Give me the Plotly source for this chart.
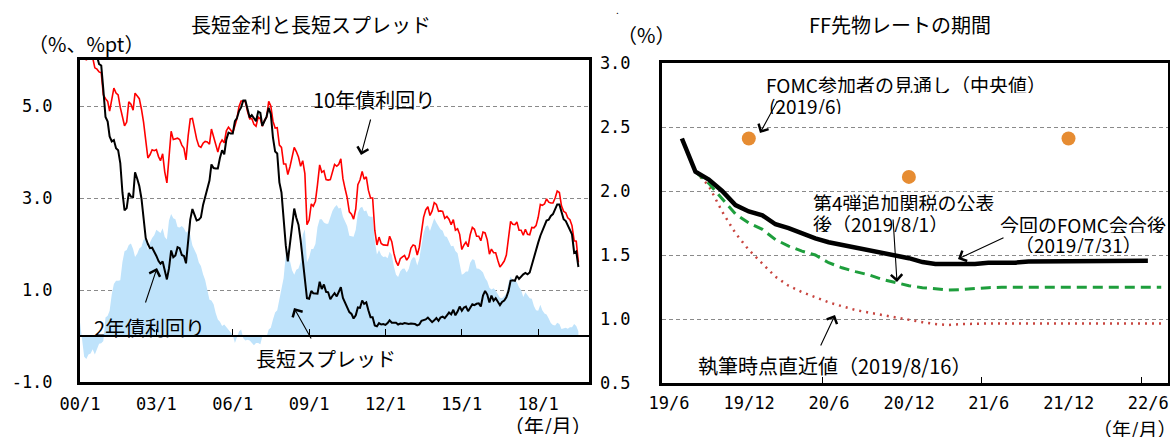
import plotly.graph_objects as go
import pandas as pd

W, H = 1170, 441

# ---------------- Left panel data (monthly, 2000/1 - 2019/8) ----------------
us10y = [
    6.66, 6.52, 6.26, 5.99, 6.44, 6.10, 6.05, 5.83, 5.80, 5.74, 5.72, 5.24,
    5.16, 5.10, 4.89, 5.14, 5.39, 5.28, 5.24, 4.97, 4.73, 4.57, 4.65, 5.09,
    5.04, 4.91, 5.28, 5.21, 5.16, 4.93, 4.65, 4.26, 3.87, 3.94, 4.05, 4.03,
    4.05, 3.90, 3.81, 3.96, 3.57, 3.33, 3.98, 4.45, 4.27, 4.29, 4.30, 4.27,
    4.15, 4.08, 3.83, 4.35, 4.72, 4.73, 4.50, 4.28, 4.13, 4.10, 4.19, 4.23,
    4.22, 4.17, 4.50, 4.34, 4.14, 4.00, 4.18, 4.26, 4.20, 4.46, 4.54, 4.47,
    4.42, 4.57, 4.72, 4.99, 5.11, 5.11, 5.09, 4.88, 4.72, 4.73, 4.60, 4.56,
    4.76, 4.72, 4.56, 4.69, 4.75, 5.10, 5.00, 4.67, 4.52, 4.53, 4.15, 4.10,
    3.74, 3.74, 3.51, 3.68, 3.88, 4.10, 4.01, 3.89, 3.69, 3.81, 3.53, 2.42,
    2.52, 2.87, 2.82, 2.93, 3.29, 3.72, 3.56, 3.59, 3.40, 3.39, 3.40, 3.59,
    3.73, 3.69, 3.73, 3.85, 3.42, 3.20, 3.01, 2.70, 2.65, 2.54, 2.76, 3.29,
    3.39, 3.58, 3.41, 3.46, 3.17, 3.00, 3.00, 2.30, 1.98, 2.15, 2.01, 1.98,
    1.97, 1.97, 2.17, 2.05, 1.80, 1.62, 1.53, 1.68, 1.72, 1.75, 1.65, 1.72,
    1.91, 1.98, 1.96, 1.76, 1.93, 2.30, 2.58, 2.74, 2.81, 2.62, 2.72, 2.90,
    2.86, 2.71, 2.72, 2.71, 2.56, 2.60, 2.54, 2.42, 2.53, 2.30, 2.33, 2.21,
    1.88, 1.98, 2.04, 1.94, 2.20, 2.36, 2.32, 2.17, 2.17, 2.07, 2.26, 2.24,
    2.09, 1.78, 1.89, 1.81, 1.81, 1.64, 1.50, 1.56, 1.63, 1.76, 2.14, 2.49,
    2.43, 2.42, 2.48, 2.30, 2.30, 2.19, 2.32, 2.21, 2.20, 2.36, 2.35, 2.40,
    2.58, 2.86, 2.84, 2.87, 2.98, 2.91, 2.89, 2.89, 3.00, 3.15, 3.12, 2.83,
    2.71, 2.68, 2.57, 2.53, 2.40, 2.07, 2.06, 1.60,
]
us2y = [
    6.44, 6.61, 6.53, 6.40, 6.81, 6.48, 6.34, 6.23, 6.08, 5.91, 5.88, 5.35,
    4.76, 4.66, 4.34, 4.23, 4.26, 4.08, 4.04, 3.76, 3.12, 2.73, 2.78, 3.11,
    3.03, 3.02, 3.56, 3.42, 3.26, 2.99, 2.56, 2.13, 2.00, 1.91, 1.92, 1.84,
    1.74, 1.63, 1.57, 1.62, 1.42, 1.23, 1.47, 1.86, 1.71, 1.75, 1.93, 1.91,
    1.76, 1.74, 1.58, 2.07, 2.53, 2.76, 2.64, 2.51, 2.53, 2.58, 2.85, 3.01,
    3.22, 3.38, 3.73, 3.65, 3.64, 3.64, 3.87, 4.04, 3.95, 4.27, 4.42, 4.40,
    4.40, 4.67, 4.73, 4.89, 4.97, 5.12, 5.12, 4.90, 4.75, 4.80, 4.74, 4.67,
    4.88, 4.85, 4.57, 4.67, 4.77, 4.96, 4.82, 4.31, 4.01, 3.97, 3.34, 3.12,
    2.48, 1.97, 1.62, 2.05, 2.45, 2.77, 2.57, 2.42, 2.08, 1.61, 1.21, 0.82,
    0.81, 0.98, 0.93, 0.93, 0.92, 1.18, 1.02, 1.12, 0.96, 0.95, 0.80, 0.87,
    0.93, 0.86, 0.96, 1.06, 0.83, 0.72, 0.62, 0.52, 0.48, 0.38, 0.45, 0.62,
    0.61, 0.77, 0.70, 0.73, 0.56, 0.41, 0.41, 0.23, 0.21, 0.28, 0.25, 0.26,
    0.24, 0.28, 0.34, 0.29, 0.29, 0.29, 0.25, 0.27, 0.26, 0.28, 0.27, 0.26,
    0.27, 0.27, 0.26, 0.23, 0.25, 0.33, 0.34, 0.36, 0.40, 0.34, 0.30, 0.34,
    0.39, 0.33, 0.40, 0.42, 0.39, 0.45, 0.51, 0.47, 0.57, 0.45, 0.53, 0.64,
    0.55, 0.62, 0.64, 0.54, 0.61, 0.69, 0.67, 0.70, 0.71, 0.64, 0.88, 0.98,
    0.90, 0.73, 0.88, 0.77, 0.82, 0.73, 0.67, 0.74, 0.77, 0.84, 0.98, 1.20,
    1.21, 1.20, 1.31, 1.24, 1.30, 1.34, 1.37, 1.34, 1.38, 1.55, 1.70, 1.84,
    2.03, 2.18, 2.28, 2.38, 2.51, 2.53, 2.61, 2.65, 2.77, 2.86, 2.86, 2.68,
    2.54, 2.50, 2.41, 2.34, 2.21, 1.81, 1.84, 1.50,
]
spread = [
    0.30, -0.09, -0.45, -0.50, -0.40, -0.38, -0.29, -0.40, -0.28, -0.17, -0.16, -0.11,
    0.40, 0.44, 0.55, 0.91, 1.13, 1.20, 1.20, 1.21, 1.61, 1.84, 1.87, 1.98,
    2.01, 1.89, 1.72, 1.79, 1.90, 1.94, 2.09, 2.13, 1.87, 2.03, 2.13, 2.19,
    2.31, 2.27, 2.24, 2.34, 2.15, 2.10, 2.51, 2.65, 2.56, 2.54, 2.37, 2.36,
    2.39, 2.34, 2.25, 2.28, 2.19, 1.97, 1.86, 1.77, 1.60, 1.52, 1.34, 1.22,
    1.00, 0.79, 0.77, 0.69, 0.50, 0.36, 0.31, 0.22, 0.25, 0.19, 0.12, 0.07,
    0.02, -0.15, -0.01, 0.10, 0.14, -0.05, -0.10, -0.08, -0.10, -0.15, -0.20, -0.15,
    -0.15, -0.18, -0.01, 0.02, -0.02, 0.14, 0.18, 0.36, 0.51, 0.56, 0.81, 0.98,
    1.26, 1.77, 1.89, 1.63, 1.43, 1.33, 1.44, 1.47, 1.61, 2.20, 2.32, 1.60,
    1.71, 1.89, 1.89, 2.00, 2.37, 2.54, 2.54, 2.47, 2.44, 2.44, 2.60, 2.72,
    2.80, 2.85, 2.77, 2.79, 2.59, 2.48, 2.39, 2.18, 2.17, 2.16, 2.31, 2.67,
    2.78, 2.81, 2.71, 2.73, 2.61, 2.59, 2.59, 2.07, 1.77, 1.87, 1.76, 1.72,
    1.73, 1.69, 1.83, 1.76, 1.51, 1.33, 1.28, 1.41, 1.46, 1.47, 1.38, 1.46,
    1.64, 1.71, 1.70, 1.53, 1.68, 1.97, 2.24, 2.38, 2.41, 2.28, 2.42, 2.56,
    2.47, 2.38, 2.32, 2.29, 2.17, 2.15, 2.03, 1.95, 1.96, 1.85, 1.80, 1.57,
    1.33, 1.36, 1.40, 1.40, 1.59, 1.67, 1.65, 1.47, 1.46, 1.43, 1.38, 1.26,
    1.19, 1.05, 1.01, 1.04, 0.99, 0.91, 0.83, 0.82, 0.86, 0.92, 1.16, 1.29,
    1.22, 1.22, 1.17, 1.06, 1.00, 0.85, 0.95, 0.87, 0.82, 0.81, 0.65, 0.56,
    0.55, 0.68, 0.56, 0.49, 0.47, 0.38, 0.28, 0.24, 0.23, 0.29, 0.26, 0.15,
    0.17, 0.18, 0.16, 0.19, 0.19, 0.26, 0.22, 0.10,
]
months_left = pd.date_range("2000-01-01", periods=len(us10y), freq="MS")
left_tick_dates = ["2000-01-01", "2003-01-01", "2006-01-01", "2009-01-01",
                   "2012-01-01", "2015-01-01", "2018-01-01"]
left_tick_text = ["00/1", "03/1", "06/1", "09/1", "12/1", "15/1", "18/1"]
left_yticks = [-1.0, 1.0, 3.0, 5.0]

# ---------------- Right panel data (monthly, 2019/7 - 2022/7) ----------------
months_right = pd.date_range("2019-07-01", "2022-07-01", freq="MS")
after_fomc = [2.41, 2.15, 2.09, 2.00, 1.89, 1.84,
              1.81, 1.74, 1.71, 1.67, 1.63, 1.60, 1.58, 1.56, 1.535, 1.515, 1.50, 1.475,
              1.445, 1.43, 1.43, 1.43, 1.43, 1.44, 1.44, 1.44, 1.45, 1.45, 1.455, 1.455,
              1.455, 1.455, 1.455, 1.455, 1.455, 1.455, None]
after_tariff = [None, 2.15, 2.06, 1.94, 1.82, 1.75,
                1.70, 1.62, 1.57, 1.53, 1.50, 1.44, 1.40, 1.37, 1.345, 1.31, 1.285, 1.26,
                1.245, 1.235, 1.227, 1.23, 1.24, 1.245,
                1.248, 1.248, 1.248, 1.248, 1.248, 1.248, 1.248, 1.248, 1.248, 1.248,
                1.248, 1.248, 1.248]
latest = [None, 2.15, 2.04, 1.84, 1.67, 1.54,
          1.43, 1.33, 1.26, 1.21, 1.17, 1.13, 1.10, 1.07, 1.05, 1.03, 1.01, 0.99,
          0.975, 0.96, 0.953, 0.96,
          0.965, 0.965, 0.965, 0.965, 0.965, 0.965, 0.965, 0.965, 0.965, 0.965,
          0.965, 0.965, 0.965, 0.965, 0.965]
dots_months = ["2019-12-01", "2020-12-01", "2021-12-01"]
dots_values = [2.41, 2.11, 2.41]
right_tick_dates = ["2019-06-01", "2019-12-01", "2020-06-01", "2020-12-01",
                    "2021-06-01", "2021-12-01", "2022-06-01"]
right_tick_text = ["19/6", "19/12", "20/6", "20/12", "21/6", "21/12", "22/6"]
right_major_ticks = ["2020-06-01", "2021-06-01", "2022-06-01"]
right_yticks = [0.5, 1.0, 1.5, 2.0, 2.5, 3.0]

FONT = "Noto Sans CJK JP, DejaVu Sans, sans-serif"
TICKFONT = "DejaVu Sans Mono, monospace"
FS = 20


def P(x, y):
    return x / W, 1 - y / H


# plot areas in pixels
L_X0, L_X1, L_Y0, L_Y1 = 80, 589, 60, 382
R_X0, R_X1, R_Y0, R_Y1 = 662, 1168, 63, 383

fig = go.Figure()

fig.add_trace(go.Scatter(x=months_left, y=spread, mode="lines", fill="tozeroy",
                         fillcolor="#BFE3FB", line=dict(width=0, color="#BFE3FB"),
                         xaxis="x", yaxis="y", hoverinfo="skip"))
fig.add_trace(go.Scatter(x=months_left, y=us10y, mode="lines",
                         line=dict(color="#FF0000", width=1.6), xaxis="x", yaxis="y"))
fig.add_trace(go.Scatter(x=months_left, y=us2y, mode="lines",
                         line=dict(color="#000000", width=2), xaxis="x", yaxis="y"))

per = dict(xperiod="M1", xperiodalignment="middle")
fig.add_trace(go.Scatter(x=months_right, y=latest, mode="lines",
                         line=dict(color="#C8453F", width=2.5, dash="2px,5px"),
                         xaxis="x2", yaxis="y2", **per))
fig.add_trace(go.Scatter(x=months_right, y=after_tariff, mode="lines",
                         line=dict(color="#1E9E3C", width=3, dash="10px,6px"),
                         xaxis="x2", yaxis="y2", **per))
fig.add_trace(go.Scatter(x=months_right, y=after_fomc, mode="lines",
                         line=dict(color="#000000", width=4.5),
                         xaxis="x2", yaxis="y2", **per))
fig.add_trace(go.Scatter(x=dots_months, y=dots_values, mode="markers",
                         marker=dict(color="#E68C32", size=14),
                         xaxis="x2", yaxis="y2", **per))
# helper (empty) traces so the overlay tick axes are rendered
fig.add_trace(go.Scatter(x=[], y=[], xaxis="x3", yaxis="y", showlegend=False))
fig.add_trace(go.Scatter(x=[], y=[], xaxis="x4", yaxis="y2", showlegend=False))

ly0, ly1 = 1 - L_Y1 / H, 1 - L_Y0 / H
ry0, ry1 = 1 - R_Y1 / H, 1 - R_Y0 / H
lrange = [-1, 6]
zero_pos = ly0 + (0 - lrange[0]) / (lrange[1] - lrange[0]) * (ly1 - ly0)

border = dict(showline=True, linecolor="black", linewidth=3, mirror=True)
tickfont = dict(family=TICKFONT, size=17, color="black")
grid = dict(showgrid=True, gridcolor="#8a8a8a", gridwidth=1, griddash="4px,3px")
nm = dict(automargin=False)

fig.update_layout(
    width=W, height=H, margin=dict(l=0, r=0, t=0, b=0, autoexpand=False),
    paper_bgcolor="white", plot_bgcolor="white", showlegend=False,
    xaxis=dict(type="date", domain=[L_X0 / W, L_X1 / W], anchor="y",
               range=["2000-01-01", "2019-12-31"], tickvals=left_tick_dates,
               ticktext=left_tick_text, ticks="", showgrid=False,
               tickfont=tickfont, ticklabelstandoff=5, **border, **nm),
    yaxis=dict(domain=[ly0, ly1], anchor="x", range=lrange, tickvals=left_yticks,
               ticktext=[f"{v:.1f}" for v in left_yticks], ticks="",
               tickfont=tickfont, ticklabelstandoff=21, zeroline=False,
               **grid, **border, **nm),
    xaxis3=dict(type="date", overlaying="x", anchor="free", position=zero_pos,
                range=["2000-01-01", "2019-12-31"], tickvals=left_tick_dates[1:],
                showticklabels=False, ticks="inside", ticklen=6, tickwidth=1,
                tickcolor="black", showline=True, linecolor="black", linewidth=1.5,
                showgrid=False, zeroline=False, **nm),
    xaxis2=dict(type="date", domain=[R_X0 / W, R_X1 / W], anchor="y2",
                range=["2019-06-01", "2022-08-01"], tickvals=right_tick_dates,
                ticktext=right_tick_text, ticks="", showgrid=False,
                tickfont=tickfont, ticklabelstandoff=3, ticklabelshift=7,
                **border, **nm),
    xaxis4=dict(type="date", overlaying="x2", anchor="y2",
                range=["2019-06-01", "2022-08-01"], tickvals=right_major_ticks,
                showticklabels=False, ticks="inside", ticklen=6, tickwidth=1,
                tickcolor="black", showline=False, showgrid=False, zeroline=False,
                **nm),
    yaxis2=dict(domain=[ry0, ry1], anchor="x2", range=[0.5, 3.0],
                tickvals=right_yticks, ticktext=[f"{v:.1f}" for v in right_yticks],
                ticks="", tickfont=tickfont, ticklabelstandoff=25, zeroline=False,
                **grid, **border, **nm),
)


def text(s, x, y, xanchor="center", size=FS, height=None):
    px, py = P(x, y)
    fig.add_annotation(text=s, x=px, y=py, xref="paper", yref="paper",
                       xanchor=xanchor, yanchor="middle", showarrow=False,
                       height=height,
                       font=dict(family=FONT, size=size, color="black"))


def arrow(xt, yt, xh, yh):
    px, py = P(xh, yh)
    fig.add_annotation(text="", x=px, y=py, xref="paper", yref="paper",
                       ax=xt - xh, ay=yt - yh, showarrow=True, arrowhead=4,
                       arrowsize=2.0, arrowwidth=1.1, arrowcolor="black",
                       standoff=0, startstandoff=0)


S2 = 19  # size for stacked two-line labels

# left panel texts
text("長短金利と長短スプレッド", 311, 25)
text("（%、%pt）", 86, 44)
text("（年/月）", 548, 425, height=17)
text("10年債利回り", 374, 99)
text("2年債利回り", 149, 327)
text("長短スプレッド", 326, 358)
arrow(371, 118, 361, 155)
arrow(145, 304, 157, 268)
arrow(312, 340, 294, 308)

# right panel texts
text("FF先物レートの期間", 900, 25)
text(".", 617, 9, size=10)
text("（%）", 646, 35)
text("FOMC参加者の見通し（中央値）", 764, 84, xanchor="left", size=S2, height=17)
text("(2019/6)", 767, 105, xanchor="left", size=S2, height=17)
text("第4弾追加関税の公表", 811, 203, xanchor="left", size=S2, height=17)
text("後（2019/8/1）", 811, 223, xanchor="left", size=S2, height=17)
text("今回のFOMC会合後", 1168, 224, xanchor="right", size=S2, height=17)
text("（2019/7/31）", 1013, 244, xanchor="left", size=S2, height=17)
text("執筆時点直近値（2019/8/16）", 696, 365, xanchor="left")
text("（年/月）", 1134, 428, size=S2, height=17)
arrow(778, 100, 760, 133)
arrow(893, 218, 897, 282)
arrow(1005, 237, 958, 259)
arrow(820, 347, 835, 315)

fig.write_html("out.html")
